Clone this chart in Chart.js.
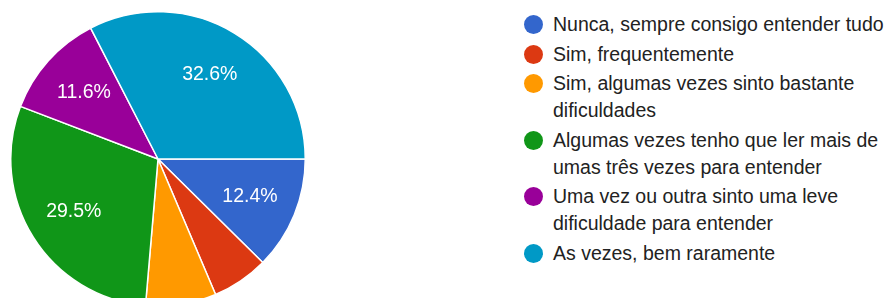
<!DOCTYPE html>
<html>
<head>
<meta charset="utf-8">
<script src="https://cdn.jsdelivr.net/npm/chart.js@4"></script>
<style>
  html, body { margin: 0; padding: 0; background: #fff; }
  body { width: 889px; height: 298px; overflow: hidden; position: relative; font-family: "Liberation Sans", Arial, sans-serif; }
  #pieWrap { position: absolute; left: 10px; top: 11px; width: 296px; height: 296px; }
  #legend { position: absolute; left: 524px; top: 11px; }
  .item { display: flex; align-items: flex-start; margin-bottom: 2.5px; }
  .dot { width: 19px; height: 19px; border-radius: 50%; margin-top: 4px; margin-right: 10px; flex: none; }
  .txt { font-size: 19.5px; line-height: 27px; color: #222222; white-space: nowrap; }
</style>
</head>
<body>
<div id="pieWrap"><canvas id="pie"></canvas></div>
<div id="legend"></div>
<script>
// Answer categories (legend lines as shown)
const categories = [
  ['Nunca, sempre consigo entender tudo'],
  ['Sim, frequentemente'],
  ['Sim, algumas vezes sinto bastante', 'dificuldades'],
  ['Algumas vezes tenho que ler mais de', 'umas três vezes para entender'],
  ['Uma vez ou outra sinto uma leve', 'dificuldade para entender'],
  ['As vezes, bem raramente']
];
// Response counts (n = 129)
const responses = [16, 8, 10, 38, 15, 42];
const sliceColors = ['#3366cc', '#dc3912', '#ff9900', '#109618', '#990099', '#0099c6'];

// percentage text inside the bigger slices
const sliceLabels = {
  id: 'sliceLabels',
  afterDatasetsDraw(chart) {
    const ctx = chart.ctx;
    const meta = chart.getDatasetMeta(0);
    const total = responses.reduce((a, b) => a + b, 0);
    ctx.save();
    ctx.fillStyle = '#ffffff';
    ctx.font = '19.5px "Liberation Sans", Arial, sans-serif';
    ctx.textAlign = 'center';
    ctx.textBaseline = 'middle';
    meta.data.forEach((arc, i) => {
      const pct = responses[i] / total * 100;
      if (pct < 10) return;
      const { x, y, startAngle, endAngle, outerRadius } = arc.getProps(['x', 'y', 'startAngle', 'endAngle', 'outerRadius'], true);
      const mid = (startAngle + endAngle) / 2;
      const r = outerRadius * 0.675;
      ctx.fillText(pct.toFixed(1) + '%', x + Math.cos(mid) * r, y + Math.sin(mid) * r);
    });
    ctx.restore();
  }
};

new Chart(document.getElementById('pie'), {
  type: 'pie',
  data: {
    labels: categories.map(c => c.join(' ')),
    datasets: [{
      data: responses,
      backgroundColor: sliceColors,
      borderColor: '#ffffff',
      borderWidth: 1.5
    }]
  },
  options: {
    responsive: true,
    maintainAspectRatio: false,
    animation: false,
    rotation: 90,
    plugins: {
      legend: { display: false },
      tooltip: { enabled: false }
    }
  },
  plugins: [sliceLabels]
});

// HTML legend
const legend = document.getElementById('legend');
categories.forEach((lines, i) => {
  const item = document.createElement('div');
  item.className = 'item';
  const dot = document.createElement('div');
  dot.className = 'dot';
  dot.style.background = sliceColors[i];
  const txt = document.createElement('div');
  txt.className = 'txt';
  lines.forEach((line, j) => {
    if (j > 0) txt.appendChild(document.createElement('br'));
    txt.appendChild(document.createTextNode(line));
  });
  item.appendChild(dot);
  item.appendChild(txt);
  legend.appendChild(item);
});
</script>
</body>
</html>
